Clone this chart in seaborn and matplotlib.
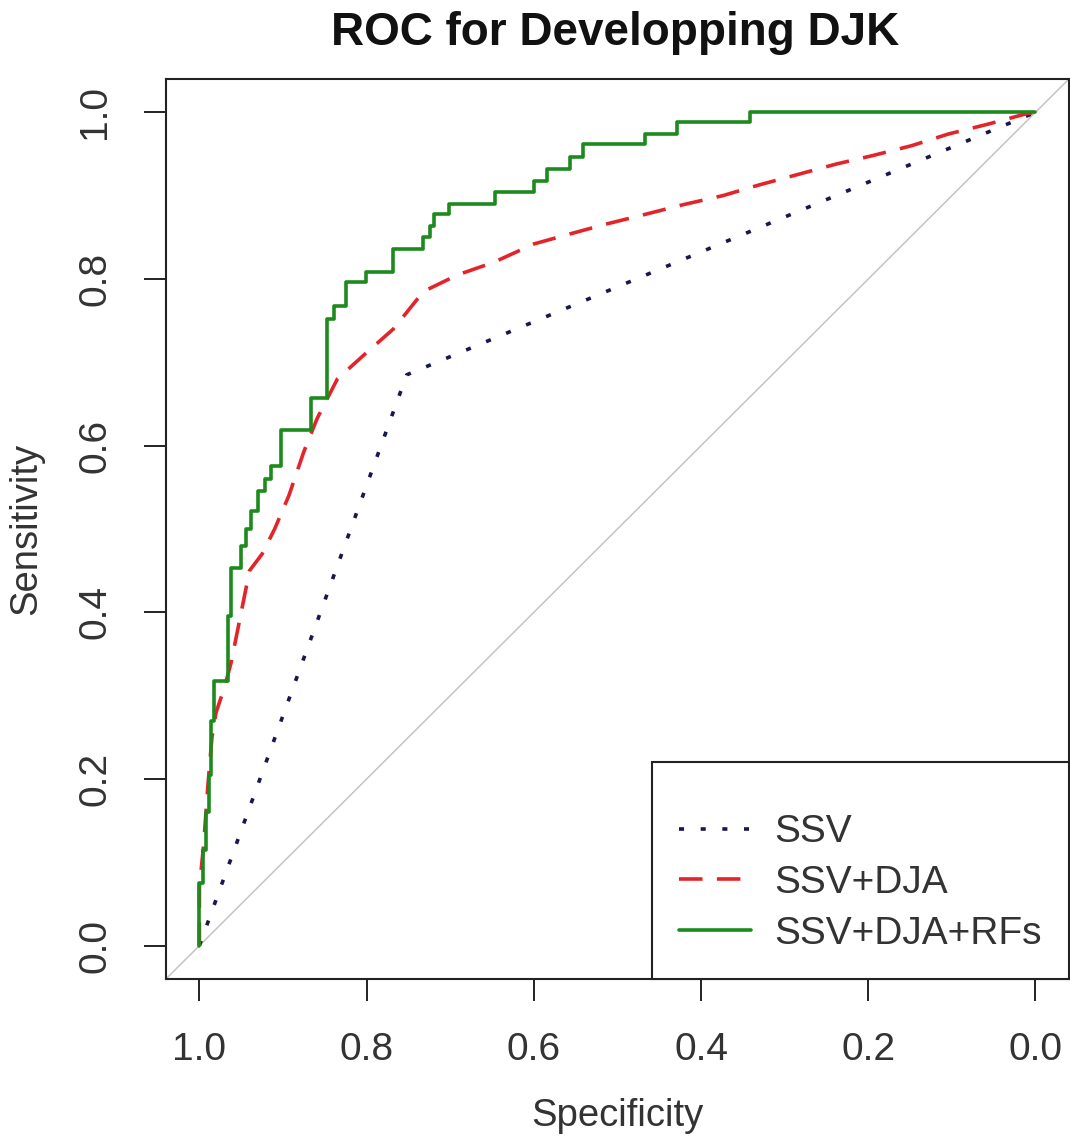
import numpy as np
import pandas as pd
import matplotlib
matplotlib.use("Agg")
import matplotlib.pyplot as plt
import seaborn as sns

sns.set_style("ticks")
plt.rcParams['font.family'] = ['Liberation Sans', 'DejaVu Sans']

# ROC points (specificity, sensitivity)
ssv_spec = [1.0, 0.752, 0.0]
ssv_sens = [0.0, 0.685, 1.0]

dja_spec = [1.0, 1.0, 0.995, 0.99, 0.985, 0.98, 0.97, 0.962, 0.956, 0.948, 0.94, 0.925,
            0.91, 0.893, 0.875, 0.859, 0.835, 0.803, 0.768, 0.732, 0.691, 0.648, 0.6,
            0.557, 0.513, 0.465, 0.422, 0.374, 0.33, 0.282, 0.238, 0.195, 0.148, 0.104,
            0.056, 0.012, 0.0]
dja_sens = [0.0, 0.07, 0.12, 0.19, 0.25, 0.28, 0.31, 0.34, 0.37, 0.41, 0.45, 0.47,
            0.50, 0.54, 0.593, 0.633, 0.68, 0.709, 0.74, 0.785, 0.805, 0.82, 0.842,
            0.854, 0.866, 0.878, 0.889, 0.9, 0.913, 0.926, 0.938, 0.948, 0.96, 0.974,
            0.986, 0.998, 1.0]

rfs_spec = [1.0, 1.0, 0.996, 0.996, 0.992, 0.992, 0.988, 0.988, 0.986, 0.986, 0.983, 0.983,
            0.966, 0.966, 0.962, 0.962, 0.950, 0.950, 0.944, 0.944, 0.938, 0.938, 0.930,
            0.930, 0.922, 0.922, 0.914, 0.914, 0.902, 0.902, 0.866, 0.866, 0.847, 0.847,
            0.839, 0.839, 0.825, 0.825, 0.801, 0.801, 0.769, 0.769, 0.733, 0.733, 0.724,
            0.724, 0.720, 0.720, 0.702, 0.702, 0.646, 0.646, 0.600, 0.600, 0.584, 0.584,
            0.557, 0.557, 0.541, 0.541, 0.467, 0.467, 0.429, 0.429, 0.342, 0.342, 0.0]
rfs_sens = [0.0, 0.075, 0.075, 0.115, 0.115, 0.160, 0.160, 0.205, 0.205, 0.270, 0.270, 0.318,
            0.318, 0.395, 0.395, 0.453, 0.453, 0.480, 0.480, 0.500, 0.500, 0.521, 0.521,
            0.545, 0.545, 0.560, 0.560, 0.575, 0.575, 0.619, 0.619, 0.657, 0.657, 0.752,
            0.752, 0.768, 0.768, 0.796, 0.796, 0.808, 0.808, 0.836, 0.836, 0.850, 0.850,
            0.864, 0.864, 0.878, 0.878, 0.890, 0.890, 0.904, 0.904, 0.918, 0.918, 0.932,
            0.932, 0.946, 0.946, 0.962, 0.962, 0.974, 0.974, 0.988, 0.988, 1.0, 1.0]

ticks = [1.0, 0.8, 0.6, 0.4, 0.2, 0.0]
tick_labels = ["1.0", "0.8", "0.6", "0.4", "0.2", "0.0"]

fig = plt.figure(figsize=(10.7, 11.43), dpi=100)
ax = fig.add_axes([0.1551, 0.1435, 0.8439, 0.7874])

# chance line
ax.axline((1, 0), (0, 1), color="#c4c4c4", linewidth=1.1, zorder=1)

sns.lineplot(x=ssv_spec, y=ssv_sens, sort=False, estimator=None, ax=ax,
             color="#17174f", linewidth=2.6, linestyle=(0, (1.4, 4.6)), label="SSV")
sns.lineplot(x=dja_spec, y=dja_sens, sort=False, estimator=None, ax=ax,
             color="#e3242b", linewidth=2.6, linestyle=(0, (6.5, 4.0)), label="SSV+DJA")
sns.lineplot(x=rfs_spec, y=rfs_sens, sort=False, estimator=None, ax=ax,
             color="#1c8a1c", linewidth=2.6, label="SSV+DJA+RFs")

ax.set_xlim(1.04, -0.04)
ax.set_ylim(-0.04, 1.04)
ax.set_xticks(ticks)
ax.set_xticklabels(tick_labels)
ax.set_yticks(ticks)
ax.set_yticklabels(tick_labels, rotation=90, va="center")
ax.tick_params(axis="both", labelsize=28, length=16, width=1.4, pad=22, colors="#222222",
               labelcolor="#333333")
for s in ax.spines.values():
    s.set_linewidth(1.5)
    s.set_color("#222222")

ax.set_xlabel("Specificity", fontsize=27.5, color="#333333", labelpad=22)
ax.set_ylabel("Sensitivity", fontsize=27.5, color="#333333", labelpad=24)

fig.text(0.575, 0.971, "ROC for Developping DJK", fontsize=33, fontweight="bold",
         ha="center", va="center", color="#111111")

leg = ax.legend(loc="lower right", bbox_to_anchor=(1.0, 0.0), borderaxespad=0,
                fontsize=28, frameon=True, fancybox=False, framealpha=1,
                edgecolor="#222222", handlelength=1.85, handletextpad=0.6,
                labelspacing=0.38, borderpad=0.7, title=" ", title_fontsize=7)
leg.get_frame().set_linewidth(1.5)
for t in leg.get_texts():
    t.set_color("#333333")

fig.savefig("out.png", dpi=100)
